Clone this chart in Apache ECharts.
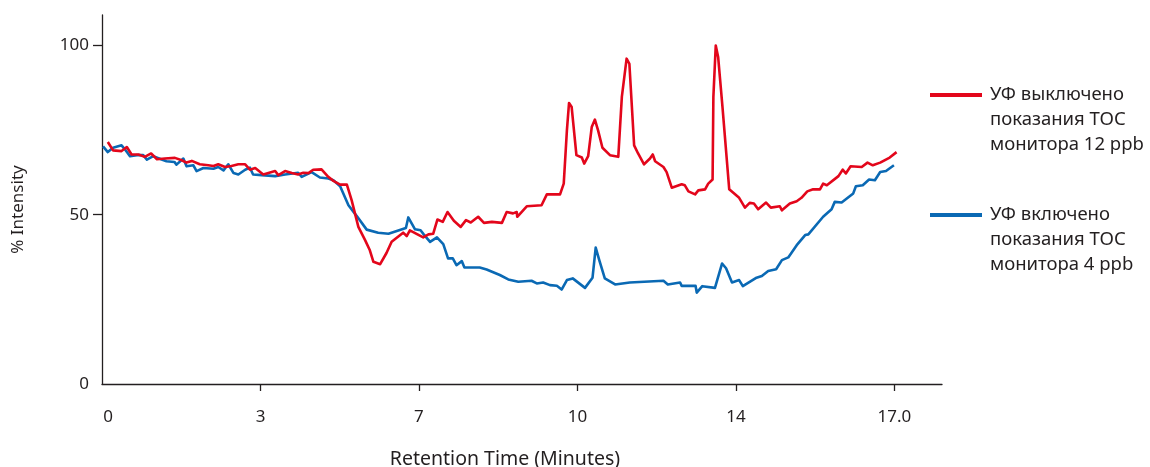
<!DOCTYPE html>
<html>
<head>
<meta charset="utf-8">
<script src="https://cdn.jsdelivr.net/npm/echarts@6/dist/echarts.min.js"></script>
<style>
  html, body { margin: 0; padding: 0; background: #ffffff; }
  #chart { width: 1150px; height: 467px; }
</style>
</head>
<body>
<div id="chart"></div>
<script>
// Retention-time axis: the labelled minutes sit at evenly spaced positions
const tickMinutes = [0, 3, 7, 10, 14, 17];
const tickLabels = ['0', '3', '7', '10', '14', '17.0'];
const intensityTicks = [0, 50, 100];

const seriesNames = [
  'УФ выключено\nпоказания TOC\nмонитора 12 ppb',
  'УФ включено\nпоказания TOC\nмонитора 4 ppb'
];

// UV off (red trace): retention time, minutes / % intensity
const uvOffTime = [0.11,0.21,0.37,0.47,0.56,0.69,0.81,0.93,1.04,1.19,
  1.38,1.51,1.60,1.70,1.85,2.01,2.11,2.20,2.33,2.45,
  2.58,2.71,2.80,2.90,3.07,3.37,3.45,3.62,3.79,3.95,
  4.08,4.21,4.33,4.54,4.71,4.84,5.01,5.18,5.30,5.47,
  5.64,5.76,5.85,6.02,6.18,6.31,6.60,6.69,6.77,7.08,
  7.18,7.27,7.35,7.45,7.54,7.66,7.79,7.89,7.98,8.12,
  8.23,8.38,8.57,8.66,8.78,8.85,8.86,9.04,9.32,9.42,
  9.67,9.74,9.80,9.84,9.89,9.98,10.11,10.17,10.27,10.36,
  10.44,10.52,10.63,10.82,11.03,11.12,11.24,11.31,11.43,11.53,
  11.68,11.83,11.90,11.96,12.17,12.25,12.38,12.63,12.71,12.80,
  12.97,13.05,13.22,13.30,13.41,13.43,13.49,13.55,13.66,13.83,
  14.06,14.17,14.26,14.34,14.42,14.57,14.66,14.83,14.87,15.02,
  15.15,15.24,15.35,15.46,15.59,15.65,15.72,15.94,16.02,16.08,
  16.17,16.38,16.49,16.59,16.73,16.91,17.04];
const uvOffIntensity = [71.5,69.0,68.8,70.0,67.8,67.8,67.1,68.1,66.4,66.6,
  66.8,66.1,65.4,65.9,64.9,64.6,64.4,64.9,64.1,64.4,
  64.9,64.9,63.3,63.8,61.9,62.9,61.7,62.9,62.3,61.9,
  62.4,62.3,63.3,63.4,61.2,60.0,58.9,58.9,54.3,46.4,
  42.5,39.5,36.1,35.4,38.7,42.0,44.7,43.7,45.4,43.3,
  44.2,44.4,48.6,47.9,50.8,48.2,46.4,48.4,47.7,49.4,
  47.6,47.9,47.6,50.8,50.4,50.8,49.4,52.5,52.8,56.0,
  56.0,59.2,74.9,83.0,81.8,67.6,66.9,65.1,67.3,75.9,
  78.1,74.9,69.8,67.6,67.1,84.8,96.1,94.6,70.5,68.1,
  64.9,66.6,67.8,65.8,64.1,62.6,58.0,59.0,58.7,56.9,
  56.0,57.2,57.5,59.2,60.4,84.8,100,96.6,81.8,57.5,
  55.0,52.1,53.5,53.3,51.6,53.6,52.1,52.5,51.3,53.3,
  54.0,55.0,56.9,57.5,57.5,59.2,58.7,61.4,63.3,62.2,
  64.3,64.1,65.4,64.6,65.4,66.9,68.5];

// UV on (blue trace): retention time, minutes / % intensity
const uvOnTime = [0.02,0.11,0.21,0.37,0.45,0.53,0.66,0.78,0.85,0.97,
  1.13,1.22,1.37,1.41,1.54,1.60,1.73,1.79,1.92,2.11,
  2.20,2.30,2.39,2.49,2.58,2.71,2.80,2.86,3.03,3.37,
  3.62,3.95,4.04,4.29,4.50,4.71,4.84,5.01,5.22,5.43,
  5.68,5.97,6.23,6.67,6.73,6.90,7.03,7.09,7.21,7.34,
  7.46,7.55,7.64,7.71,7.81,7.86,8.15,8.28,8.53,8.69,
  8.88,9.13,9.23,9.35,9.48,9.61,9.70,9.80,9.91,10.19,
  10.38,10.46,10.55,10.69,10.95,11.32,12.17,12.28,12.59,12.63,
  12.98,13.01,13.15,13.47,13.65,13.75,13.90,14.06,14.13,14.39,
  14.49,14.61,14.76,14.87,14.99,15.15,15.31,15.37,15.65,15.81,
  15.87,16.00,16.22,16.27,16.40,16.52,16.63,16.73,16.84,16.99];
const uvOnIntensity = [70.2,68.5,69.8,70.5,69.0,67.3,67.6,67.6,66.3,67.3,
  66.3,65.8,65.6,64.8,66.6,64.3,64.6,62.9,63.8,63.6,
  64.1,63.1,64.9,62.3,61.9,63.3,63.9,61.9,61.7,61.4,
  61.9,62.4,61.2,62.6,61.0,60.7,60.2,58.4,52.8,49.6,
  45.6,44.7,44.4,46.1,49.2,45.7,45.4,44.2,42.0,43.3,
  41.3,37.1,37.1,35.1,36.3,34.4,34.4,33.8,32.2,30.9,
  30.2,30.5,29.7,30.0,29.2,29.0,27.9,30.7,31.2,28.4,
  31.4,40.3,36.6,31.2,29.4,30.0,30.5,29.4,30.0,29.0,
  29.0,27.0,28.9,28.4,35.6,34.2,30.0,30.7,28.9,31.4,
  31.9,33.4,33.9,36.6,37.4,41.0,44.0,44.2,49.4,51.6,
  53.8,53.6,56.3,58.4,58.7,60.4,60.2,62.6,62.9,64.6];

// Map minutes onto the evenly spaced tick positions (piecewise linear)
function toAxis(m) {
  let i = 0;
  while (i < tickMinutes.length - 2 && m > tickMinutes[i + 1]) i++;
  return i + (m - tickMinutes[i]) / (tickMinutes[i + 1] - tickMinutes[i]);
}
function pairs(times, values) {
  return times.map((t, i) => [toAxis(t), values[i]]);
}

const FONT = '"Noto Sans", "DejaVu Sans", sans-serif';
const INK = '#231f20';
const RED = '#e3061b';
const BLUE = '#0a69b4';

// Each legend entry: the swatch lines up with the first line of its caption
// (two blank lines above the caption keep the block centred on the swatch).
const legendCommon = {
  left: 930,
  orient: 'vertical',
  padding: 0,
  itemWidth: 52,
  itemHeight: 4,
  icon: 'rect',
  selectedMode: false,
  formatter: name => '\n\n' + name,
  textStyle: { fontFamily: FONT, fontSize: 18.5, lineHeight: 25, color: INK, padding: [0, 0, 0, 3] }
};

const chart = echarts.init(document.getElementById('chart'));
chart.setOption({
  animation: false,
  backgroundColor: '#ffffff',
  grid: { left: 102, right: 208, top: 15, bottom: 83, outerBoundsMode: 'none' },
  legend: [
    Object.assign({ data: [seriesNames[0]], top: 32.5 }, legendCommon),
    Object.assign({ data: [seriesNames[1]], top: 152.5 }, legendCommon)
  ],
  xAxis: {
    type: 'value', min: 0, max: 5.3, interval: 1,
    name: 'Retention Time (Minutes)', nameLocation: 'middle', nameGap: 65,
    nameTextStyle: { fontFamily: FONT, fontSize: 19.5, color: INK, padding: [0, 34, 0, 0] },
    axisLine: { lineStyle: { color: INK, width: 1.3 } },
    axisTick: { customValues: [1, 2, 3, 4, 5], length: 7, lineStyle: { color: INK, width: 1.3 } },
    axisLabel: {
      customValues: [0, 1, 2, 3, 4, 5],
      margin: 25, fontFamily: FONT, fontSize: 17, color: INK,
      formatter: v => v === 0 ? '{z|' + tickLabels[0] + '}' : tickLabels[Math.round(v)],
      rich: { z: { fontFamily: FONT, fontSize: 17, color: INK, padding: [0, 0, 0, 12] } }
    },
    splitLine: { show: false }
  },
  yAxis: {
    type: 'value', min: 0, max: 109, interval: 50,
    name: '% Intensity', nameLocation: 'middle', nameGap: 75,
    nameTextStyle: { fontFamily: FONT, fontSize: 17, color: INK, padding: [0, 20, 0, 0] },
    axisLine: { show: true, lineStyle: { color: INK, width: 1.3 } },
    axisTick: { show: true, customValues: [50, 100], length: 9, lineStyle: { color: INK, width: 1.3 } },
    axisLabel: { customValues: intensityTicks, margin: 13, fontFamily: FONT, fontSize: 17, color: INK },
    splitLine: { show: false }
  },
  series: [
    {
      name: seriesNames[0], type: 'line', data: pairs(uvOffTime, uvOffIntensity),
      showSymbol: false, smooth: false, z: 3,
      itemStyle: { color: RED },
      lineStyle: { color: RED, width: 2.6, join: 'round' }
    },
    {
      name: seriesNames[1], type: 'line', data: pairs(uvOnTime, uvOnIntensity),
      showSymbol: false, smooth: false, z: 2,
      itemStyle: { color: BLUE },
      lineStyle: { color: BLUE, width: 2.6, join: 'round' }
    }
  ]
});
</script>
</body>
</html>
